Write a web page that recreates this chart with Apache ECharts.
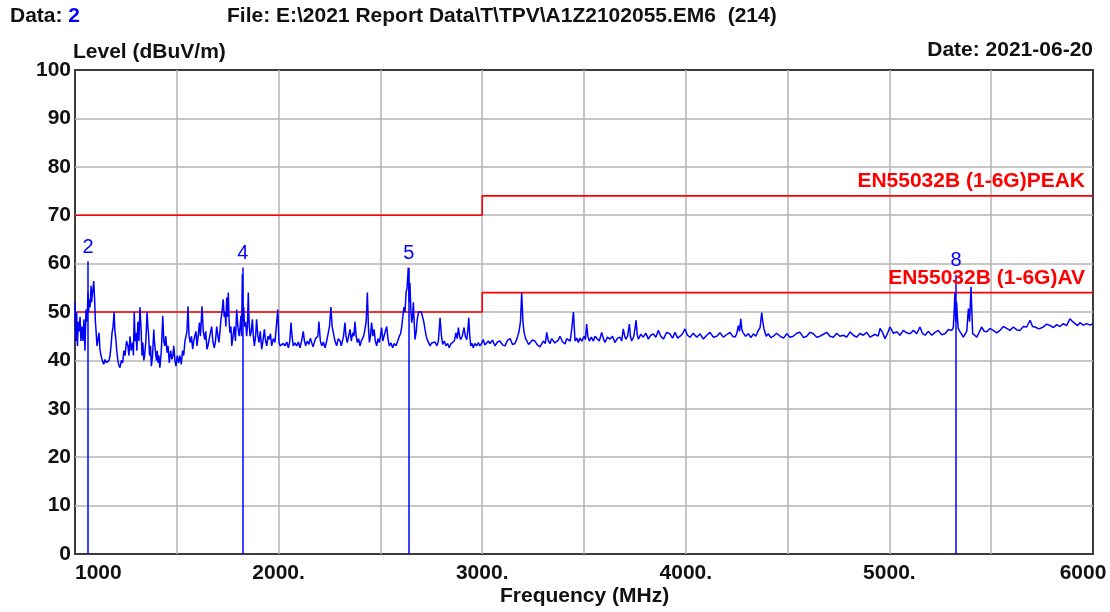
<!DOCTYPE html>
<html>
<head>
<meta charset="utf-8">
<script src="https://cdn.jsdelivr.net/npm/echarts@6/dist/echarts.min.js"></script>
<style>html,body{margin:0;padding:0;background:#fff;}#c{width:1110px;height:612px;}</style>
</head>
<body>
<div id="c"></div>
<script>
// ---- data (frequency MHz, level dBuV/m) ----
var tracePoints = [
[1000,52],[1004,44],[1008,50],[1012,43],[1016,48],[1020,46],[1025,49],[1029,44],[1034,47],[1039,44],[1044,48.5],[1049,42],[1054,50.5],[1059,48],[1064,54],[1067,50],[1069,52.6],[1074,51],[1079,55.4],[1082,52],[1084,53.3],[1088,54.5],[1092,56.4],[1097,52],[1100,48],[1103,46.4],[1108,43],[1113,44.3],[1118,45.7],[1123,42],[1128,41],[1134,40],[1141,39.2],[1147,40.2],[1154,39.5],[1162,39.2],[1167,40],[1172,41],[1177,43],[1182,45.7],[1187,47],[1192,50],[1196,46],[1201,44.3],[1205,42],[1210,40.2],[1215,39],[1221,38.5],[1228,40],[1234,39.5],[1240,42],[1246,41],[1253,44],[1260,43],[1265,41],[1270,45],[1276,42],[1283,43.7],[1287,41],[1291,50],[1295,44],[1300,45.7],[1304,42],[1309,48],[1314,44],[1319,51],[1325,46],[1329,41],[1333,43.7],[1338,40],[1342,41],[1348,44],[1354,50],[1358,47],[1362,45],[1366,41],[1371,43],[1375,38.8],[1381,41],[1387,46.4],[1390,44],[1394,42.3],[1400,40],[1404,42],[1408,39.5],[1412,41],[1417,38.5],[1424,42],[1431,49.2],[1436,44],[1441,43],[1446,45],[1452,41.6],[1457,43],[1463,39.5],[1470,42],[1476,40.2],[1481,41],[1485,43],[1491,40],[1496,38.8],[1502,41],[1509,39.5],[1515,41],[1522,39.2],[1528,42],[1534,41],[1540,44],[1545,44.3],[1550,46],[1555,51.2],[1560,45],[1566,43.7],[1572,45],[1578,42.3],[1583,44],[1588,45],[1594,46],[1599,43],[1605,45],[1611,47.8],[1616,45],[1620,48],[1624,51.2],[1630,46],[1637,44.3],[1642,46],[1648,42.3],[1653,43],[1662,45],[1671,47],[1677,44],[1684,42.6],[1690,44],[1696,47],[1702,45],[1707,43.7],[1712,46],[1717,48.5],[1722,50],[1728,52.6],[1733,49],[1737,50],[1741,47],[1745,53],[1749,49],[1753,54],[1757,48],[1761,45.7],[1766,47],[1770,43],[1776,45],[1782,47],[1788,44],[1794,50.5],[1800,47],[1806,45],[1811,47],[1815,49.2],[1818,45],[1822,57.8],[1826,48],[1829,51],[1832,47],[1838,48],[1843,45],[1847,47],[1851,54],[1855,48],[1860,45],[1866,46],[1871,48.5],[1876,45],[1881,43],[1887,45],[1892,48.5],[1898,45],[1904,43.7],[1910,46],[1917,42.3],[1923,44],[1930,46.4],[1936,44],[1942,43],[1948,45],[1953,44.3],[1960,45.5],[1966,43],[1974,44.5],[1982,43.7],[1990,44],[1996,50.5],[2002,43.7],[2008,43],[2015,42.6],[2023,43.5],[2031,43],[2040,43.8],[2048,42.6],[2055,44],[2061,47.8],[2066,45],[2072,43],[2080,43.6],[2089,43],[2097,43.8],[2105,42.6],[2113,44],[2121,46],[2127,44],[2133,43],[2141,44],[2149,43.3],[2156,44.6],[2163,44.3],[2169,42.8],[2175,43],[2181,44.5],[2187,44.3],[2193,45],[2198,48],[2205,44],[2212,43],[2220,43.8],[2228,42.6],[2236,44],[2244,45.7],[2250,47],[2257,51],[2263,47],[2269,45.7],[2277,44],[2285,43],[2293,44.5],[2302,44],[2308,43],[2313,42.6],[2319,45],[2326,47.8],[2331,45],[2337,43.7],[2344,45],[2351,46.4],[2357,44],[2364,45.7],[2370,45],[2375,48],[2381,45],[2387,43.7],[2393,44.5],[2400,43],[2406,44],[2413,44.3],[2418,45],[2424,46.4],[2430,48],[2436,54],[2441,47],[2446,43.7],[2451,45],[2457,47.8],[2463,45],[2469,46.4],[2475,44],[2482,43],[2488,44.5],[2495,43.7],[2500,45],[2506,46.8],[2512,44],[2518,44.3],[2524,46],[2531,47],[2537,44.5],[2544,43],[2552,43.6],[2560,42.6],[2568,43.5],[2577,43],[2585,44],[2593,45],[2599,45.5],[2605,47],[2610,49],[2616,51],[2621,50],[2626,54],[2631,55],[2637,59.2],[2641,52],[2645,56],[2650,50],[2654,47.8],[2658,49],[2662,52],[2666,48],[2670,44.3],[2676,46],[2681,48.5],[2688,50],[2694,50.2],[2701,50],[2708,50.2],[2713,48],[2719,46.4],[2725,45],[2730,44.3],[2737,44],[2744,43],[2752,43.6],[2760,43.3],[2768,43.8],[2777,43],[2785,44],[2793,48.8],[2800,45],[2806,43.3],[2814,44],[2822,43],[2830,43.5],[2838,42.6],[2846,43.4],[2855,43],[2863,44],[2871,45.7],[2877,44.5],[2883,46.8],[2889,45],[2894,44.3],[2902,45],[2911,46.8],[2917,45],[2924,44.3],[2929,46],[2934,48.8],[2939,45],[2944,43],[2950,43.5],[2956,42.6],[2964,43.5],[2973,43],[2981,43.7],[2989,43],[2997,43.5],
[3005,44.3],[3013,43.2],[3022,43.3],[3030,44],[3038,43.5],[3050,44.2],[3063,43],[3075,43.8],[3087,44],[3100,43.2],[3112,43],[3125,44.2],[3137,44.5],[3149,43.3],[3161,43.5],[3171,44.5],[3181,46],[3188,48],[3194,54],[3200,48],[3205,46],[3213,44.5],[3220,44],[3228,43.3],[3235,43],[3247,44.2],[3259,44],[3271,43.2],[3284,42.8],[3300,44],[3310,43.5],[3317,45.8],[3325,44],[3333,43.5],[3341,44.5],[3349,44.8],[3357,43.6],[3366,43.4],[3374,44.2],[3382,45],[3395,43.8],[3407,43.4],[3415,44.5],[3423,44.4],[3432,44],[3440,46.5],[3448,50],[3452,47],[3456,44],[3464,44.6],[3472,43.7],[3480,44.6],[3489,44],[3501,45],[3507,44.3],[3513,47.5],[3519,45],[3526,44],[3536,44.8],[3546,44],[3554,45],[3562,44.8],[3575,44],[3587,45.8],[3595,44.5],[3603,43.7],[3615,44.8],[3628,44.4],[3640,45],[3652,43.7],[3665,44.6],[3677,44.8],[3685,44],[3693,46.5],[3700,45],[3706,44.4],[3714,45],[3723,47.5],[3728,45],[3734,44],[3745,45],[3756,48.3],[3761,45.5],[3767,44.4],[3779,45.4],[3791,44.8],[3804,45.6],[3816,44.4],[3828,45.2],[3840,45.5],[3853,44.8],[3865,46.2],[3877,45],[3890,44.4],[3906,45.8],[3922,45.5],[3935,44.6],[3947,45.8],[3960,44.6],[3972,45],[3984,45.5],[3996,46.5],[4008,45.2],[4021,44.8],[4037,45.6],[4054,44.8],[4070,45.5],[4086,44.4],[4103,45.2],[4119,45.8],[4135,44.8],[4152,45],[4168,45.7],[4184,44.8],[4200,45.3],[4217,45.8],[4230,45],[4242,44.8],[4250,45.5],[4258,47.2],[4264,46],[4270,48.6],[4275,46.5],[4280,45.8],[4294,45],[4307,45.5],[4320,44.7],[4332,45.5],[4344,45],[4356,46.2],[4365,46.8],[4373,49.9],[4378,48],[4384,46.5],[4395,45],[4405,45.5],[4418,44.7],[4430,45],[4446,45.6],[4463,45],[4480,44.6],[4496,45.5],[4512,44.8],[4528,45],[4545,45.6],[4561,45.8],[4578,44.7],[4594,45],[4610,45.8],[4626,45.5],[4643,44.8],[4659,45],[4676,45.4],[4692,45.8],[4708,45],[4725,44.8],[4741,45.6],[4757,45],[4774,45.2],[4790,44.8],[4807,45.9],[4823,45.2],[4839,44.8],[4856,45.6],[4872,45.2],[4888,45.8],[4905,44.8],[4930,45.4],[4945,45],[4954,46.6],[4966,45.8],[4978,44.5],[4990,45.5],[5003,46.9],[5020,45.6],[5036,45.9],[5052,45.2],[5068,46.2],[5085,45.7],[5101,45.5],[5118,46.2],[5134,45.5],[5142,45.2],[5150,46.9],[5162,45.6],[5175,45.2],[5192,46],[5208,45.2],[5224,45.8],[5240,46.2],[5257,45.3],[5273,45.5],[5290,46.4],[5306,46.2],[5314,46.8],[5318,50],[5322,54],[5326,48],[5330,52],[5334,49],[5338,46.6],[5346,46],[5355,45.9],[5363,44.8],[5371,45.2],[5380,46],[5388,50.7],[5394,48],[5401,55.2],[5405,50],[5409,45.5],[5419,45.2],[5429,44.8],[5441,45.8],[5453,46.9],[5466,46],[5478,45.9],[5494,46.6],[5510,46.2],[5527,45.7],[5543,46.2],[5560,47],[5576,46.6],[5592,46.2],[5609,46.9],[5626,46.3],[5642,46.2],[5658,47],[5674,46.9],[5683,46.5],[5691,48.3],[5703,47],[5715,46.9],[5735,46.5],[5756,46.9],[5772,47.5],[5789,47.2],[5806,46.8],[5822,47.4],[5838,47],[5854,47.6],[5870,47.2],[5887,48.6],[5900,48],[5912,47.6],[5924,47.2],[5936,47.8],[5952,47.3],[5969,47.6],[5985,47.3],[6000,47.6]
];
var limitFreq = [1000, 3000, 3000, 6000];
var peakLimit = [70, 70, 74, 74];
var avLimit = [50, 50, 54, 54];
var markerNo = ['2', '4', '5', '8'];
var markerFreq = [1064, 1824, 2640, 5327];
var markerLevel = [60.5, 59.2, 59.1, 57.7];
var xTickLabels = {1000: '1000', 2000: '2000.', 3000: '3000.', 4000: '4000.', 5000: '5000.', 6000: '6000'};
var peakName = 'EN55032B (1-6G)PEAK';
var avName = 'EN55032B (1-6G)AV';

// ---- build ----
function zip(a, b) { return a.map(function (v, i) { return [v, b[i]]; }); }
var FONT = '"Liberation Sans", Arial, sans-serif';
var BLUE = '#0000ff', RED = '#ff0000', GRIDC = '#b4b4b4';

var markLines = markerFreq.map(function (f, i) {
  return [{coord: [f, 0]}, {coord: [f, markerLevel[i]], label: {formatter: markerNo[i]}}];
});

function limitLabelLine(freq, lev, name) {
  var n = freq.length;
  return {
    silent: true, symbol: 'none', animation: false,
    lineStyle: {color: 'rgba(255,0,0,0)', width: 1, type: 'solid'},
    label: {show: true, position: 'insideEndTop', formatter: name, color: RED,
      fontFamily: FONT, fontWeight: 'bold', fontSize: 21, distance: [8, 4]},
    emphasis: {disabled: true},
    data: [[{coord: [freq[n - 2], lev[n - 2]]}, {coord: [freq[n - 1], lev[n - 1]]}]]
  };
}

var chart = echarts.init(document.getElementById('c'), null, {renderer: 'canvas'});
chart.setOption({
  animation: false,
  backgroundColor: '#fff',
  grid: {left: 75, right: 17, top: 70, bottom: 58, show: true, borderColor: '#3c3c3c', borderWidth: 2, containLabel: false},
  xAxis: {
    type: 'value', min: 1000, max: 6000, interval: 1000,
    axisLine: {show: false}, axisTick: {show: false},
    splitLine: {show: true, showMinLine: false, showMaxLine: false, lineStyle: {color: GRIDC, width: 1.5}},
    minorTick: {show: false, splitNumber: 2},
    minorSplitLine: {show: true, lineStyle: {color: GRIDC, width: 1.5}},
    axisLabel: {
      color: '#111', fontFamily: FONT, fontWeight: 'bold', fontSize: 21, margin: 9,
      alignMinLabel: 'left',
      formatter: function (v) { return v === 6000 ? '{r|' + xTickLabels[v] + '}' : xTickLabels[v]; },
      rich: {r: {color: '#111', fontFamily: FONT, fontWeight: 'bold', fontSize: 21, padding: [0, 20, 0, 0]}}
    }
  },
  yAxis: {
    type: 'value', min: 0, max: 100, interval: 10,
    axisLine: {show: false}, axisTick: {show: false},
    splitLine: {show: true, showMinLine: false, showMaxLine: false, lineStyle: {color: GRIDC, width: 1.5}},
    axisLabel: {color: '#111', fontFamily: FONT, fontWeight: 'bold', fontSize: 21, margin: 4}
  },
  series: [
    {type: 'line', name: 'peak', data: zip(limitFreq, peakLimit), showSymbol: false, symbol: 'none',
      lineStyle: {color: RED, width: 1.6}, z: 3, markLine: limitLabelLine(limitFreq, peakLimit, peakName)},
    {type: 'line', name: 'av', data: zip(limitFreq, avLimit), showSymbol: false, symbol: 'none',
      lineStyle: {color: RED, width: 1.6}, z: 3, markLine: limitLabelLine(limitFreq, avLimit, avName)},
    {type: 'line', name: 'trace', data: tracePoints, showSymbol: false, symbol: 'none',
      lineStyle: {color: BLUE, width: 1.5}, z: 4,
      markLine: {
        silent: true, symbol: 'none', animation: false,
        lineStyle: {color: BLUE, width: 1.5, type: 'solid'},
        label: {show: true, position: 'end', color: BLUE, fontFamily: FONT, fontSize: 20, distance: 4},
        emphasis: {disabled: true},
        data: markLines
      }}
  ],
  graphic: [
    {type: 'text', left: 10, top: 6, style: {text: '{k|Data: }{b|2}', rich: {
      k: {fontFamily: FONT, fontWeight: 'bold', fontSize: 21, fill: '#111'},
      b: {fontFamily: FONT, fontWeight: 'bold', fontSize: 21, fill: BLUE}}}},
    {type: 'text', left: 227, top: 6, style: {text: 'File: E:\\2021 Report Data\\T\\TPV\\A1Z2102055.EM6  (214)',
      fontFamily: FONT, fontWeight: 'bold', fontSize: 21, fill: '#111'}},
    {type: 'text', left: 73, top: 42, style: {text: 'Level (dBuV/m)', fontFamily: FONT, fontWeight: 'bold', fontSize: 21, fill: '#111'}},
    {type: 'text', right: 17, top: 40, style: {text: 'Date: 2021-06-20', fontFamily: FONT, fontWeight: 'bold', fontSize: 21, fill: '#111', textAlign: 'right'}},
    {type: 'text', left: 500, top: 586, style: {text: 'Frequency (MHz)', fontFamily: FONT, fontWeight: 'bold', fontSize: 21, fill: '#111'}}
  ]
});
</script>
</body>
</html>
